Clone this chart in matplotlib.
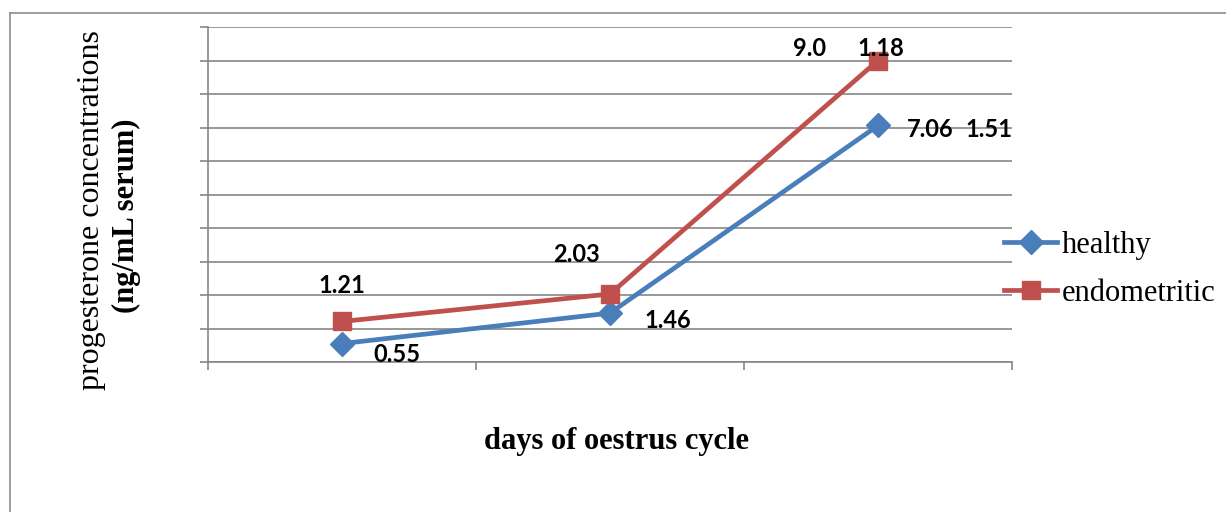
import numpy as np
import matplotlib.pyplot as plt
from matplotlib.lines import Line2D

# data
days = [1, 2, 3]
healthy = [0.55, 1.46, 7.06]
endometritic = [1.21, 2.03, 9.0]
healthy_labels = ["0.55", "1.46", "7.06"]
endo_labels = ["1.21", "2.03", "9.0"]
# second number printed beside the last point of each series
healthy_extra = "1.51"
endo_extra = "1.18"
series_names = ["healthy", "endometritic"]

W, H = 1226, 512
fig = plt.figure(figsize=(W / 100, H / 100), dpi=100)

# outer chart frame (only top and left edges visible)
frame = "#8c8c8c"
fig.add_artist(Line2D([10 / W, 1], [1 - 13 / H, 1 - 13 / H], color=frame, lw=1.2))
fig.add_artist(Line2D([10 / W, 10 / W], [0, 1 - 13 / H], color=frame, lw=1.2))

ax = fig.add_axes([208 / W, 1 - 362 / H, (1012 - 208) / W, (362 - 27) / H])

grid = "#868686"
blue = "#4a7ebb"
red = "#c0504d"

ax.plot(days, healthy, color=blue, lw=3.4, marker="D", ms=12, zorder=3, label=series_names[0])
ax.plot(days, endometritic, color=red, lw=3.4, marker="s", ms=13, zorder=3, label=series_names[1])

ax.set_xlim(0.5, 3.5)
ax.set_ylim(0, 10)
ax.set_yticks(np.arange(0, 11, 1))
ax.set_yticklabels([])
ax.set_xticks([0.5, 1.5, 2.5, 3.5])
ax.set_xticklabels([])
ax.tick_params(axis="both", direction="out", length=6, width=1.2, color=grid)
ax.yaxis.grid(True, color=grid, lw=1.2)
ax.set_axisbelow(True)
for s in ["top", "right"]:
    ax.spines[s].set_visible(False)
for s in ["left", "bottom"]:
    ax.spines[s].set_color(grid)
    ax.spines[s].set_linewidth(1.2)

lab = dict(fontsize=17, fontweight="bold", family="Lato", textcoords="offset pixels",
           ha="center", va="center", annotation_clip=False)
# healthy labels
ax.annotate(healthy_labels[0], (days[0], healthy[0]), xytext=(55, -11), **lab)
ax.annotate(healthy_labels[1], (days[1], healthy[1]), xytext=(58, -7), **lab)
ax.annotate(healthy_labels[2], (days[2], healthy[2]), xytext=(52, -4), **lab)
ax.annotate(healthy_extra, (days[2], healthy[2]), xytext=(111, -4), **lab)
# endometritic labels
ax.annotate(endo_labels[0], (days[0], endometritic[0]), xytext=(0, 36), **lab)
ax.annotate(endo_labels[1], (days[1], endometritic[1]), xytext=(-33, 39), **lab)
ax.annotate(endo_labels[2], (days[2], endometritic[2]), xytext=(-68, 12), **lab)
ax.annotate(endo_extra, (days[2], endometritic[2]), xytext=(3, 12), **lab)

serif = "Liberation Serif"
fig.text(92 / W, 1 - 210 / H, "progesterone concentrations", rotation=90,
         ha="center", va="center", fontsize=23, family=serif)
fig.text(126 / W, 1 - 216 / H, "(ng/mL serum)", rotation=90,
         ha="center", va="center", fontsize=22, family=serif, fontweight="bold")
fig.text(616 / W, 1 - 442 / H, "days of oestrus cycle", ha="center", va="center",
         fontsize=22, family=serif, fontweight="bold")

fig.legend(loc="upper left", bbox_to_anchor=(1004 / W, 1 - 231 / H), frameon=False,
           prop={"family": serif, "size": 22}, handlelength=1.75, handletextpad=0.15,
           labelspacing=0.62, borderaxespad=0, borderpad=0)

fig.savefig("out.png", dpi=100)
